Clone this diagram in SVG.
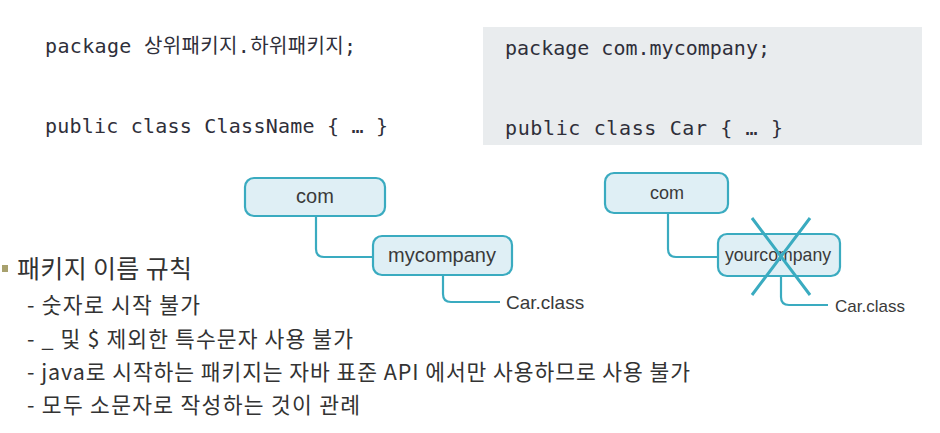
<svg xmlns="http://www.w3.org/2000/svg" width="940" height="433" viewBox="0 0 940 433">
<style>
.code{font-family:"DejaVu Sans Mono","Noto Sans CJK KR",monospace;font-size:20px;fill:#2f2f3a}
.box{fill:#dfeff5;stroke:#3aabc0;stroke-width:2.2}
.lbl{font-family:"Liberation Sans","Noto Sans",sans-serif;fill:#3a3a3a;text-anchor:middle}
.leaf{font-family:"Liberation Sans","Noto Sans",sans-serif;fill:#3a3a3a}
.con{fill:none;stroke:#3aabc0;stroke-width:2.2}
.txt{font-family:"Noto Sans CJK KR","Noto Sans",sans-serif;fill:#333}
</style>
<rect width="940" height="433" fill="#ffffff"/>
<g id="code-left">
<text class="code" x="45" y="53" textLength="311">package 상위패키지.하위패키지;</text>
<text class="code" x="45" y="133" textLength="343">public class ClassName { … }</text>
</g>
<g id="code-right">
<rect x="483" y="27" width="439" height="118" fill="#e9ecee"/>
<text class="code" x="505" y="55" textLength="265">package com.mycompany;</text>
<text class="code" x="505" y="135" textLength="278">public class Car { … }</text>
</g>
<g id="connectors">
<path class="con" d="M316 216 V249 Q316 257 324 257 H373"/>
<path class="con" d="M443 275 V294 Q443 302 451 302 H500"/>
<path class="con" d="M668 213 V249 Q668 257 676 257 H718"/>
<path class="con" d="M781 276 V297 Q781 305 789 305 H828"/>
</g>
<g id="node-com-left">
<rect class="box" x="245" y="178" width="140" height="38" rx="9"/>
<text class="lbl" x="315" y="203" font-size="20">com</text>
</g>
<g id="node-mycompany">
<rect class="box" x="373" y="236" width="139" height="39" rx="9"/>
<text class="lbl" x="442" y="262" font-size="20">mycompany</text>
</g>
<g id="node-carclass-left">
<text class="leaf" x="506" y="309" font-size="19">Car.class</text>
</g>
<g id="node-com-right">
<rect class="box" x="605" y="173" width="123" height="40" rx="9"/>
<text class="lbl" x="667" y="199" font-size="18">com</text>
</g>
<g id="node-yourcompany">
<rect class="box" x="718" y="234" width="122" height="42" rx="9"/>
<text class="lbl" x="778" y="261" font-size="17.7">yourcompany</text>
<path d="M752 218 L810 295 M810 218 L752 295" stroke="#3aabc0" stroke-width="3" fill="none"/>
</g>
<g id="node-carclass-right">
<text class="leaf" x="835" y="312" font-size="17">Car.class</text>
</g>
<g id="rules">
<rect x="2" y="265" width="6" height="7" fill="#a8a16e"/>
<text class="txt" x="17" y="278" font-size="25" textLength="175">패키지 이름 규칙</text>
<text class="txt" x="27" y="313" font-size="21.5" textLength="173">- 숫자로 시작 불가</text>
<text class="txt" x="27" y="347" font-size="21.5" textLength="326">- _ 및 $ 제외한 특수문자 사용 불가</text>
<text class="txt" x="27" y="380" font-size="21.5" textLength="663">- java로 시작하는 패키지는 자바 표준 API 에서만 사용하므로 사용 불가</text>
<text class="txt" x="27" y="413" font-size="21.5" textLength="333">- 모두 소문자로 작성하는 것이 관례</text>
</g>
</svg>
